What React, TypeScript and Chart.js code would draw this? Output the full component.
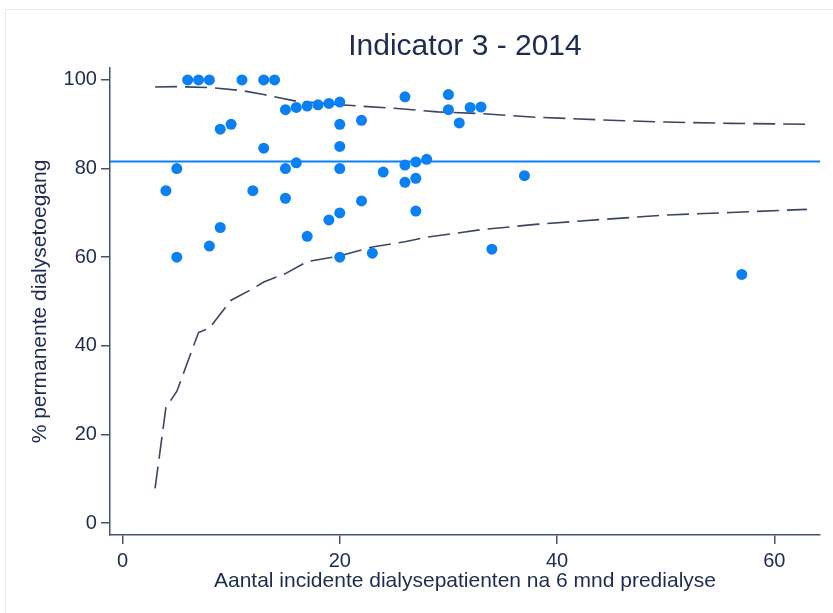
import React, { useEffect, useRef } from 'react'
import { Chart, registerables } from 'chart.js'

Chart.register(...registerables)

// centra: aantal incidente patienten (x) en % permanente toegang (y)
const centreX = [
	4, 5, 5, 6, 7, 8, 8, 9, 9, 10, 11, 12, 13, 13, 14, 15, 15, 15, 16, 16, 17, 17,
	18, 19, 19, 20, 20, 20, 20, 20, 20, 22, 22, 23, 24, 26, 26, 26, 27, 27, 27, 28,
	30, 30, 31, 32, 33, 34, 37, 57,
]
const centreY = [
	75, 80, 60, 100, 100, 100, 62.5, 88.9, 66.7, 90, 100, 75, 100, 84.6, 100, 93.3,
	80, 73.3, 93.8, 81.3, 94.1, 64.7, 94.4, 94.7, 68.4, 95, 90, 85, 80, 70, 60, 90.9,
	72.7, 60.9, 79.2, 96.2, 80.8, 76.9, 81.5, 77.8, 70.4, 82.1, 96.7, 93.3, 90.3,
	93.8, 93.9, 61.8, 78.4, 56.1,
]

// funnel grenzen
const upperX = [3, 5, 8, 11, 13, 16, 20, 25, 29, 33, 38, 44, 50, 56, 63]
const upperY = [98.4, 98.5, 98.3, 97.6, 96.7, 95.2, 94.4, 93.6, 92.8, 92.4, 91.6, 91.0, 90.5, 90.2, 90.0]
const lowerX = [3, 4, 5, 7, 8, 10, 12, 13, 15, 17, 20, 23, 26, 28, 33, 38, 44, 50, 56, 63]
const lowerY = [7.8, 26.1, 29.7, 43, 44, 50.3, 52.9, 54.4, 56.3, 59, 60.3, 62.3, 63.5, 64.5, 66.2, 67.4, 68.5, 69.5, 70.1, 70.8]

const gemiddelde = 81.6

const xTicks = [0, 20, 40, 60]
const yTicks = [0, 20, 40, 60, 80, 100]

const textColor = '#1e2b50'
const axisColor = '#465370'
const blue = '#0a80f5'
const font = "'Liberation Sans', Arial, sans-serif"

const toPoints = (xs: number[], ys: number[]) => xs.map((x, i) => ({ x, y: ys[i] }))

const background = {
	id: 'background',
	beforeDraw(chart: Chart) {
		const ctx = chart.ctx
		ctx.save()
		ctx.fillStyle = '#ffffff'
		ctx.fillRect(0, 0, chart.width, chart.height)
		ctx.strokeStyle = '#e4ebf1'
		ctx.lineWidth = 1
		ctx.strokeRect(5.5, 9.5, chart.width + 20, chart.height + 20)
		ctx.restore()
	},
}

const averageLine = {
	id: 'averageLine',
	beforeDatasetsDraw(chart: Chart) {
		const { ctx, chartArea, scales } = chart
		const y = scales.y.getPixelForValue(gemiddelde)
		ctx.save()
		ctx.strokeStyle = blue
		ctx.lineWidth = 2
		ctx.beginPath()
		ctx.moveTo(chartArea.left, y)
		ctx.lineTo(chartArea.right, y)
		ctx.stroke()
		ctx.restore()
	},
}

const App: React.FC = () => {
	const chartRef = useRef<HTMLCanvasElement>(null)

	useEffect(() => {
		if (!chartRef.current) return
		const context = chartRef.current.getContext('2d')
		if (!context) return

		const chart = new Chart(context, {
			type: 'scatter',
			data: {
				datasets: [
					{
						data: toPoints(centreX, centreY),
						backgroundColor: blue,
						borderColor: blue,
						pointRadius: 5.5,
						pointBorderWidth: 0,
					},
					{
						type: 'line',
						data: toPoints(upperX, upperY),
						borderColor: '#3a4560',
						borderWidth: 1.6,
						borderDash: [22, 8],
						pointRadius: 0,
						fill: false,
						tension: 0,
					},
					{
						type: 'line',
						data: toPoints(lowerX, lowerY),
						borderColor: '#3a4560',
						borderWidth: 1.6,
						borderDash: [22, 8],
						pointRadius: 0,
						fill: false,
						tension: 0,
					},
				],
			},
			options: {
				animation: false,
				responsive: false,
				devicePixelRatio: 1,
				layout: { padding: { left: 0, right: 13, top: 0, bottom: 18.8 } },
				plugins: {
					legend: { display: false },
					tooltip: { enabled: false },
					title: {
						display: true,
						fullSize: false,
						text: 'Indicator 3 - 2014',
						color: textColor,
						font: { family: font, size: 30, weight: 'normal', lineHeight: 1.2 },
						padding: { top: 28.8, bottom: 3.2 },
					},
				},
				scales: {
					x: {
						type: 'linear',
						min: -1.15,
						max: 64.2,
						afterBuildTicks: (axis: any) => {
							axis.ticks = xTicks.map((value) => ({ value }))
						},
						ticks: {
							color: textColor,
							font: { family: font, size: 20, lineHeight: 1 },
							padding: 7,
							maxRotation: 0,
							autoSkip: false,
						},
						grid: {
							drawOnChartArea: false,
							drawTicks: true,
							tickLength: 9,
							color: axisColor,
							lineWidth: 1.5,
						},
						border: { display: true, color: axisColor, width: 1.5 },
						title: {
							display: true,
							text: 'Aantal incidente dialysepatienten na 6 mnd predialyse',
							color: textColor,
							font: { family: font, size: 21, lineHeight: 1.2 },
							padding: { top: -9, bottom: 0 },
						},
					},
					y: {
						type: 'linear',
						min: -2.7,
						max: 102.7,
						afterBuildTicks: (axis: any) => {
							axis.ticks = yTicks.map((value) => ({ value }))
						},
						ticks: {
							color: textColor,
							font: { family: font, size: 20 },
							padding: 4,
							autoSkip: false,
						},
						grid: {
							drawOnChartArea: false,
							drawTicks: true,
							tickLength: 9,
							color: axisColor,
							lineWidth: 1.5,
						},
						border: { display: true, color: axisColor, width: 1.5 },
						title: {
							display: true,
							text: '% permanente dialysetoegang',
							color: textColor,
							font: { family: font, size: 21, lineHeight: 1.2 },
							padding: { top: 27.4, bottom: 7 },
						},
					},
				},
			},
			plugins: [background, averageLine],
		})

		return () => {
			chart.destroy()
		}
	}, [])

	return (
		<div style={{ position: 'fixed', left: 0, top: 0, width: 833, height: 613 }}>
			<canvas ref={chartRef} width={833} height={613} />
		</div>
	)
}

export default App
